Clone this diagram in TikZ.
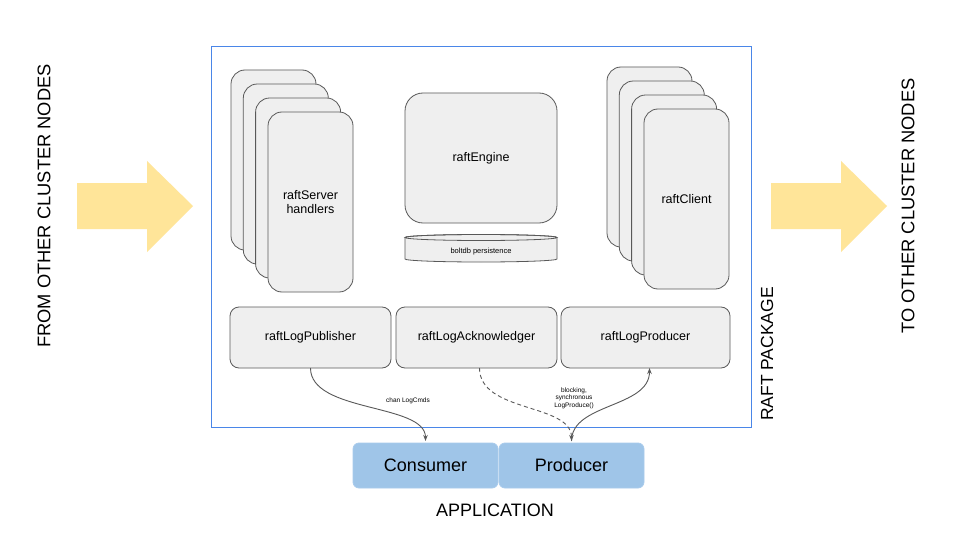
\documentclass[tikz,border=0pt]{standalone}
\usepackage{fontspec}
\setmainfont{Liberation Sans}
\usetikzlibrary{arrows.meta}
\definecolor{cardfill}{HTML}{EFEFEF}
\definecolor{cardline}{HTML}{595959}
\definecolor{pkgblue}{HTML}{4A86E8}
\definecolor{appfill}{HTML}{9FC5E8}
\definecolor{appline}{HTML}{A9CBEC}
\definecolor{bigarrow}{HTML}{FFE599}
\definecolor{connc}{HTML}{595959}
\tikzset{
  card/.style={draw=cardline, fill=cardfill, line width=0.8pt, rounded corners=14pt,
    anchor=north west, minimum width=85pt, minimum height=180pt, inner sep=0pt, outer sep=0pt,
    font=\fontsize{12.5}{14.5}\selectfont, align=center},
  logbox/.style={draw=cardline, fill=cardfill, line width=0.8pt, rounded corners=9pt,
    anchor=north west, minimum height=61pt, inner sep=0pt, outer sep=0pt,
    font=\fontsize{12.5}{14.5}\selectfont},
  appbox/.style={draw=appline, fill=appfill, line width=0.8pt, rounded corners=6pt,
    anchor=north west, minimum height=45pt, inner sep=0pt, outer sep=0pt,
    font=\fontsize{18}{20}\selectfont},
  bigtext/.style={font=\fontsize{18.3}{20}\selectfont, rotate=90, inner sep=0pt},
  conn/.style={draw=connc, line width=0.9pt, -{Stealth[length=6pt,width=4.5pt]}},
  small/.style={font=\fontsize{6.5}{7.5}\selectfont, align=center, inner sep=0pt}
}
\begin{document}
\begin{tikzpicture}[x=1pt,y=-1pt]
\useasboundingbox (0,0) rectangle (960,540);
\fill[white] (0,0) rectangle (960,540);

% big yellow arrows
\fill[bigarrow] (77,183) -- (147,183) -- (147,161) -- (193,206) -- (147,252) -- (147,229) -- (77,229) -- cycle;
\fill[bigarrow] (771,183) -- (841,183) -- (841,161) -- (887,206) -- (841,252) -- (841,229) -- (771,229) -- cycle;

\node[bigtext] (from) at (44,206) {FROM OTHER CLUSTER NODES};
\node[bigtext] (to) at (908,206) {TO OTHER CLUSTER NODES};

% package box
\node[draw=pkgblue, line width=0.8pt, anchor=north west, minimum width=540pt, minimum height=381pt,
  inner sep=0pt, outer sep=0pt] (pkg) at (211,46) {};
\node[font=\fontsize{17.5}{20}\selectfont, rotate=90, inner sep=0pt] (pkglabel) at (767,354) {RAFT PACKAGE};

% raftServer stack
\node[card] (srv1) at (231,70) {};
\node[card] (srv2) at (243.3,84) {};
\node[card] (srv3) at (255.6,98) {};
\node[card] (srv4) at (268,112) {raftServer\\handlers};

% raftClient stack
\node[card] (cli1) at (607,67) {};
\node[card] (cli2) at (619.3,81) {};
\node[card] (cli3) at (631.6,95) {};
\node[card] (cli4) at (644,109) {raftClient};

% raftEngine
\node[card, rounded corners=18pt, minimum width=152pt, minimum height=130pt] (eng) at (405,93) {raftEngine};

% boltdb cylinder
\filldraw[draw=cardline, fill=cardfill, line width=0.8pt]
  (405,237.5) -- (405,259) arc[start angle=180, end angle=360, x radius=76pt, y radius=3pt]
  -- (557,237.5) arc[start angle=0, end angle=180, x radius=76pt, y radius=3pt] -- cycle;
\draw[draw=cardline, line width=0.8pt] (481,237.5) ellipse[x radius=76pt, y radius=3pt];
\node[font=\fontsize{7.5}{9}\selectfont, inner sep=0pt] (db) at (481,252) {boltdb persistence};

% log boxes
\node[logbox, minimum width=161pt] (pub) at (230,307) {raftLogPublisher};
\node[logbox, minimum width=161pt] (ack) at (396,307) {raftLogAcknowledger};
\node[logbox, minimum width=169pt] (lprod) at (561,307) {raftLogProducer};

% application boxes
\node[appbox, minimum width=145pt] (cons) at (353,443) {Consumer};
\node[appbox, minimum width=145pt] (prod) at (499,443) {Producer};
\node[font=\fontsize{18}{20}\selectfont, inner sep=0pt] (app) at (495,510) {APPLICATION};

% connectors
\coordinate (ackout) at ([xshift=3pt]ack.south);
\coordinate (lprodin) at ([xshift=4pt]lprod.south);
\draw[conn, shorten >=2pt] (pub.south) .. controls +(0,45) and +(0,-40) .. (cons.north);
\draw[conn, dash pattern=on 4pt off 3pt, shorten >=2pt] (ackout) .. controls +(0,45) and +(0,-40) .. (prod.north);
\draw[conn, shorten <=2pt] (prod.north) .. controls +(0,-40) and +(0,40) .. (lprodin);

\node[small] (lbl1) at (408,401) {chan LogCmds};
\node[small] (lbl2) at (574,398) {blocking,\\synchronous\\LogProduce()};
\end{tikzpicture}
\end{document}
